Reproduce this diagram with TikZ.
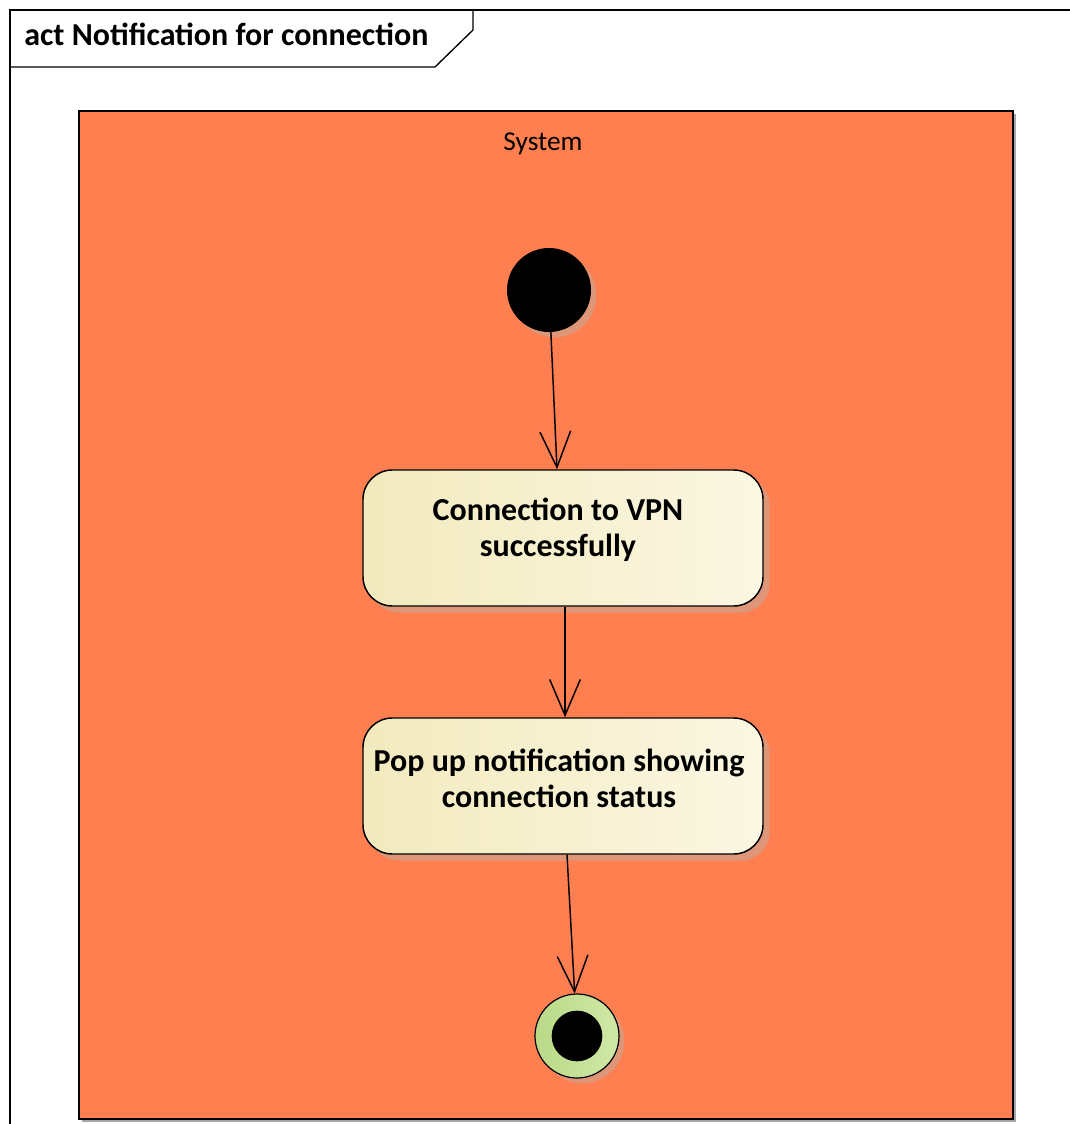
\documentclass[tikz,border=0pt]{standalone}
\usepackage{fontspec}
\setmainfont{Carlito}
\usetikzlibrary{arrows.meta,shadows,calc}
\definecolor{partfill}{RGB}{255,127,80}
\definecolor{actleft}{RGB}{242,234,190}
\definecolor{actright}{RGB}{251,247,226}
\definecolor{finalleft}{RGB}{186,218,136}
\definecolor{finalright}{RGB}{208,232,166}
\definecolor{shade}{RGB}{222,150,120}
\tikzset{
  flow/.style={draw=black, line width=1.1pt,
    -{Straight Barb[length=27pt, width=23pt, line width=1.1pt]}},
  action/.style={draw=black, line width=1.1pt, rounded corners=22pt,
    minimum width=300pt, minimum height=102pt,
    left color=actleft, right color=actright,
    drop shadow={shadow xshift=5pt, shadow yshift=-5pt, fill=shade, opacity=1}},
  actiontext/.style={align=center, inner sep=0pt,
    font=\fontsize{24}{27}\selectfont\bfseries},
  initial/.style={circle, fill=black, minimum size=63pt, inner sep=0pt,
    drop shadow={shadow xshift=4pt, shadow yshift=-4pt, fill=shade, opacity=1}},
  finalring/.style={circle, draw=black, line width=0.9pt, minimum size=63pt,
    inner sep=0pt, left color=finalleft, right color=finalright,
    drop shadow={shadow xshift=4pt, shadow yshift=-4pt, fill=shade, opacity=1}},
  finaldot/.style={circle, fill=black, minimum size=38pt, inner sep=0pt},
}
\begin{document}
\begin{tikzpicture}[x=0.75pt, y=-0.75pt]
\useasboundingbox (0,0) rectangle (1070,1124);
\fill[white] (0,0) rectangle (1070,1124);

% activity frame with its name tab
\draw[line width=1pt] (1070,10) -- (10,10) -- (10,1124);
\draw[line width=1pt] (10,67) -- (435,67) -- (473,30) -- (473,10);
\node[anchor=base west, inner sep=0pt, font=\fontsize{24}{28}\selectfont\bfseries]
  (title) at (24,46) {act Notification for connection};

% partition
\fill[gray!70] (82,114) rectangle (1016,1122);
\draw[line width=1pt, fill=partfill] (79,111) rectangle (1013,1119);
\node[font=\fontsize{20.5}{24}\selectfont] (part) at (543,144) {System};

% flow nodes
\node[initial] (start) at (549,290) {};
\node[action] (act1) at (563,538) {};
\node[actiontext] (act1text) at ($(act1.center)+(-5,-8)$) {Connection to VPN\\successfully};
\node[action] (act2) at (563,786) {};
\node[actiontext] (act2text) at ($(act2.center)+(-4,-8)$) {Pop up notification showing\\connection status};
\node[finalring] (final) at (577,1036) {};
\node[finaldot] (finaldot) at (final.center) {};

% control flows
\draw[flow] (start) -- ($(act1.north)+(-6,0)$);
\draw[flow] ($(act1.south)+(2,0)$) -- ($(act2.north)+(2,0)$);
\draw[flow] ($(act2.south)+(4,0)$) -- (final);
\end{tikzpicture}
\end{document}
